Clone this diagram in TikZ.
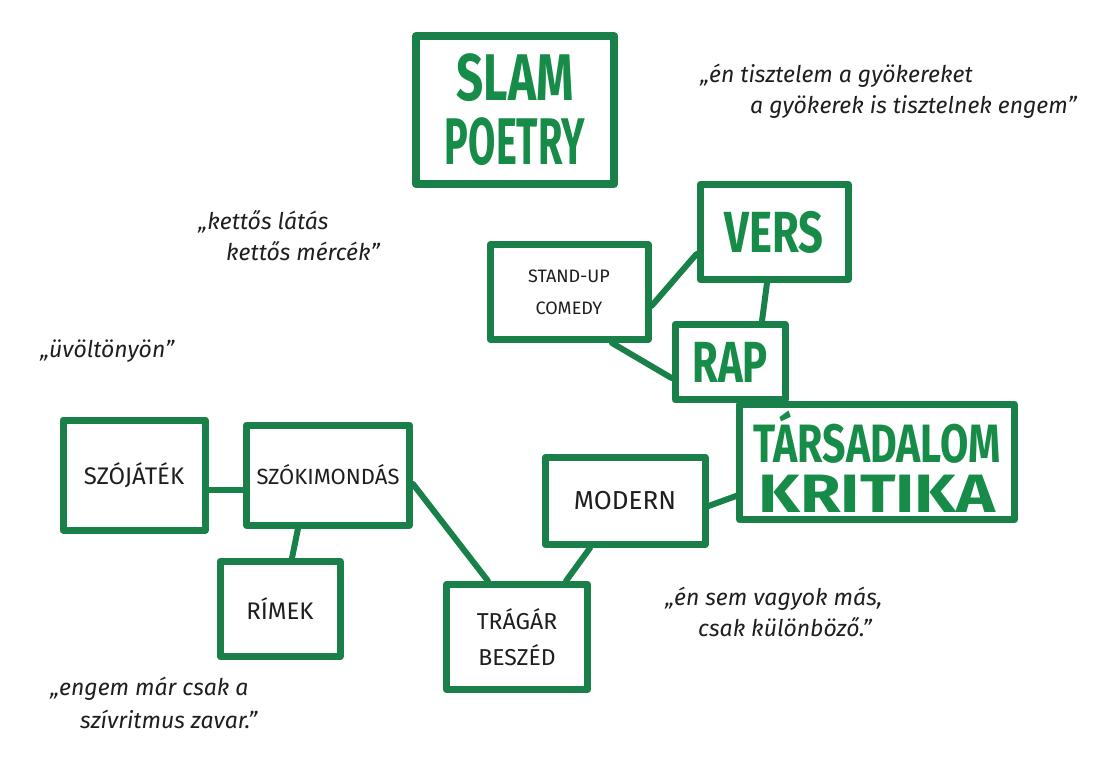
\documentclass[tikz,border=0pt]{standalone}
\usepackage{fontspec}
\setmainfont{Fira Sans}
\definecolor{boxgreen}{RGB}{24,128,72}
\definecolor{textgreen}{RGB}{22,140,72}
\definecolor{ink}{RGB}{30,30,30}
\tikzset{
  box/.style={draw=boxgreen, line width=7pt, rectangle, inner sep=0pt, line join=round},
  lbl/.style={font=\fontsize{24}{30}\selectfont, text=ink, align=center},
  big/.style={font=\fontsize{58}{52}\selectfont\bfseries, text=textgreen, align=center},
  link/.style={draw=boxgreen, line width=6pt, line cap=round},
  quote/.style={font=\fontsize{23}{28}\selectfont\itshape, text=ink, anchor=west, inner sep=0pt}
}
\begin{document}
\begin{tikzpicture}[x=1pt,y=-1pt]
\useasboundingbox (0,0) rectangle (1113,772);
% boxes
\node[box, line width=8pt, minimum width=198pt, minimum height=148pt, font=\fontsize{66}{64}\selectfont\bfseries, text=textgreen, align=center] (title) at (515,110) {\scalebox{0.72}[1]{SLAM}\\\scalebox{0.6}[1]{POETRY}};
\node[box, minimum width=148pt, minimum height=95pt, big] (vers) at (774,232) {\scalebox{0.75}[1]{VERS}};
\node[box, minimum width=158pt, minimum height=95pt, lbl, font=\fontsize{18}{32}\selectfont] (stand) at (569,292) {STAND-UP\\COMEDY};
\node[box, minimum width=110pt, minimum height=75pt, big] (rap) at (730,362) {\scalebox{0.72}[1]{RAP}};
\node[box, minimum width=142pt, minimum height=110pt, lbl] (szojatek) at (134,475) {SZÓJÁTÉK};
\node[box, minimum width=163pt, minimum height=100pt, lbl, font=\fontsize{22}{26}\selectfont] (szoki) at (328,475) {SZÓKIMONDÁS};
\node[box, minimum width=120pt, minimum height=95pt, lbl] (rimek) at (280,609) {RÍMEK};
\node[box, minimum width=141pt, minimum height=105pt, lbl, font=\fontsize{23}{36}\selectfont] (tragar) at (517,637) {TRÁGÁR\\BESZÉD};
\node[box, minimum width=160pt, minimum height=87pt, lbl, font=\fontsize{26}{30}\selectfont] (modern) at (625,501) {MODERN};
\node[box, minimum width=275pt, minimum height=115pt, big, font=\fontsize{54}{50}\selectfont\bfseries] (tarsad) at (877,462) {\scalebox{0.76}[1]{TÁRSADALOM}\\\scalebox{1.22}[1]{KRITIKA}};
% links
\draw[link] ([yshift=-14pt]stand.east) -- ([yshift=-22pt]vers.west);
\draw[link] ([xshift=-7pt]vers.south) -- ([xshift=32pt]rap.north);
\draw[link] ([xshift=43pt]stand.south) -- ([yshift=-16pt]rap.west);
\draw[link] ([yshift=-15pt]szojatek.east) -- ([yshift=-15pt]szoki.west);
\draw[link] ([xshift=-30pt]szoki.south) -- ([xshift=12pt]rimek.north);
\draw[link] ([yshift=-9pt]szoki.east) -- ([xshift=-29pt]tragar.north);
\draw[link] ([xshift=49pt]tragar.north) -- ([xshift=-35pt]modern.south);
\draw[link] ([yshift=-5pt]modern.east) -- ([yshift=-34pt]tarsad.west);
% quotes
\node[quote] (q1a) at (700,76) {„én tisztelem a gyökereket};
\node[quote] (q1b) at (750,107) {a gyökerek is tisztelnek engem”};
\node[quote] (q2a) at (198,222) {„kettős látás};
\node[quote] (q2b) at (226,251) {kettős mércék”};
\node[quote] (q3) at (40,351) {„üvöltönyön”};
\node[quote] (q4a) at (665,599) {„én sem vagyok más,};
\node[quote] (q4b) at (698,627) {csak különböző.”};
\node[quote] (q5a) at (50,689) {„engem már csak a};
\node[quote] (q5b) at (80,719) {szívritmus zavar.”};
\end{tikzpicture}
\end{document}
